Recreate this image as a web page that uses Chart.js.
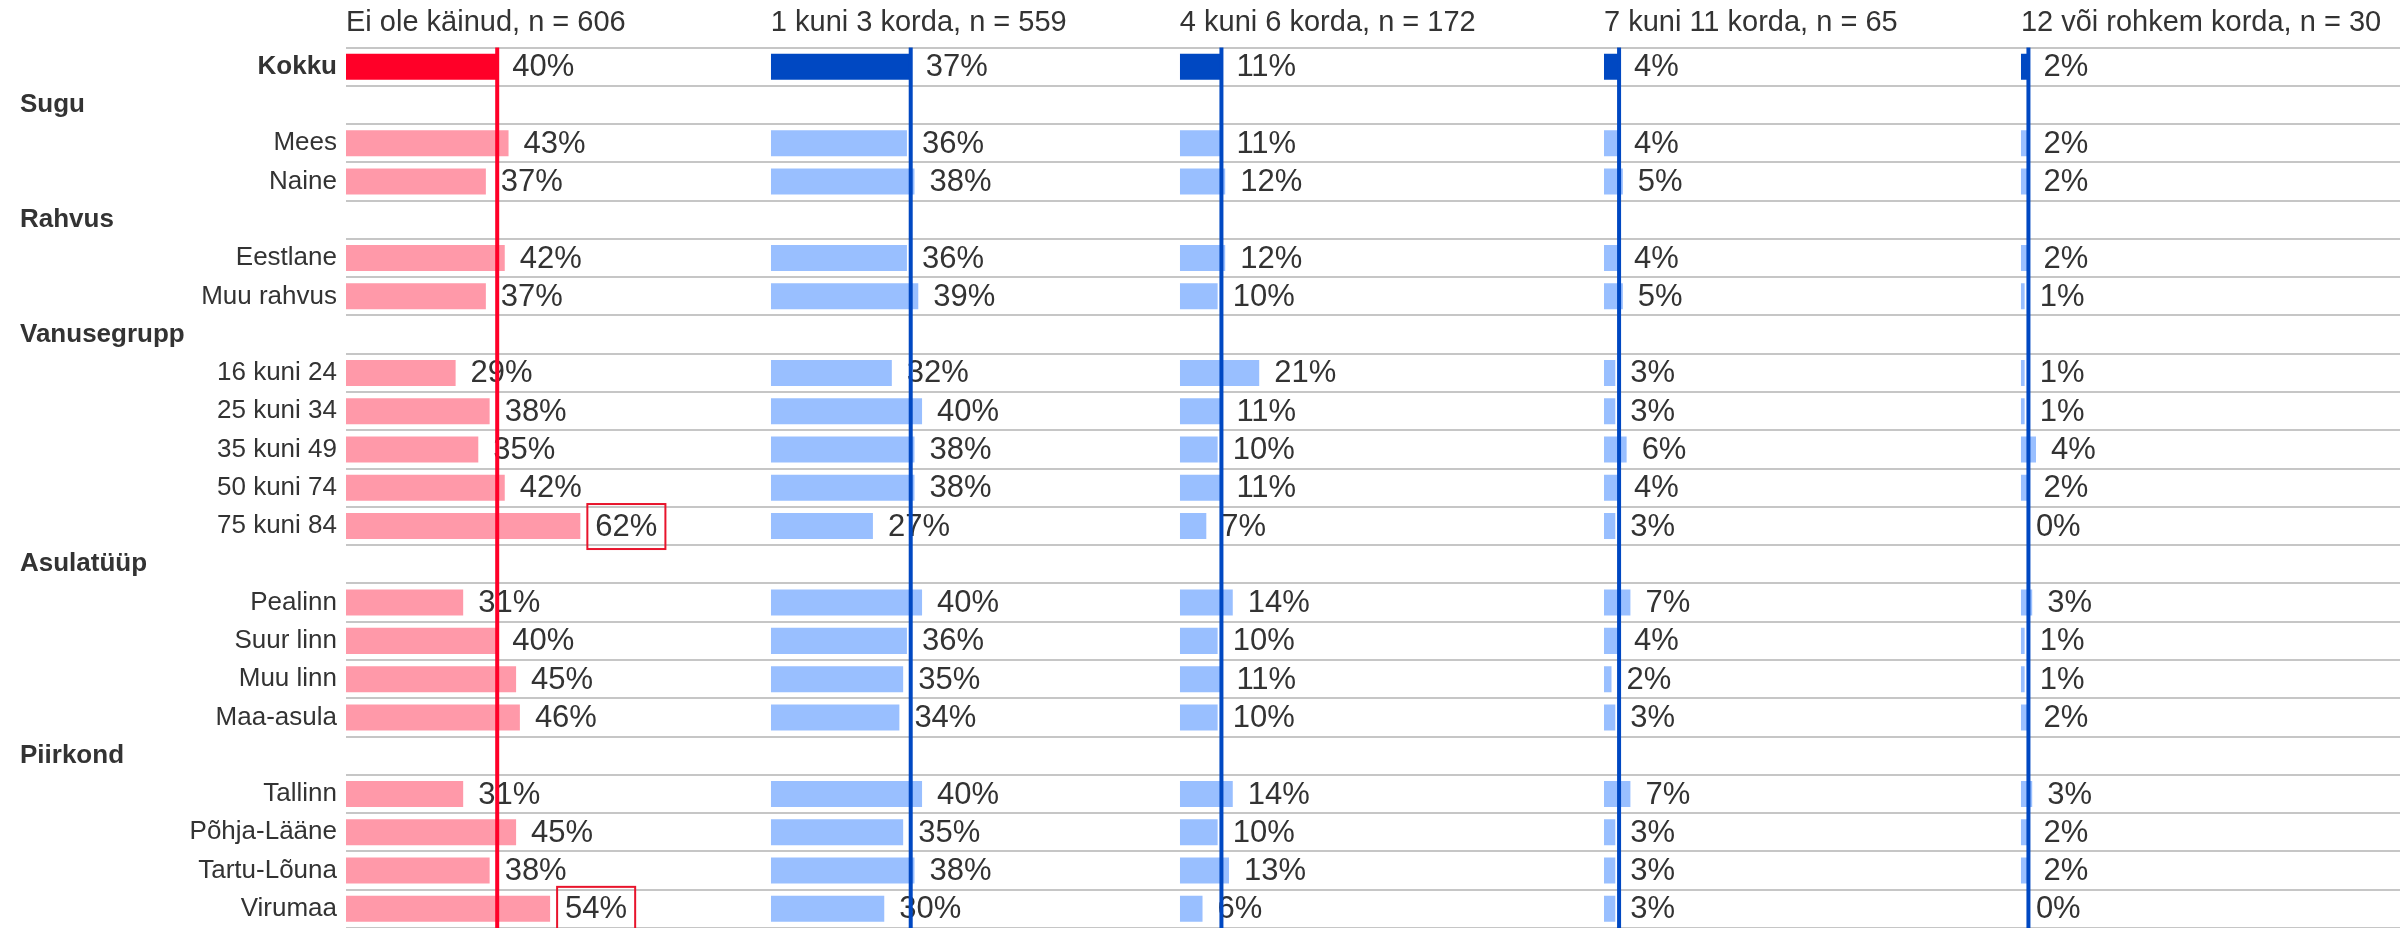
<!DOCTYPE html>
<html>
<head>
<meta charset="utf-8">
<title>Käimised</title>
<script src="https://cdn.jsdelivr.net/npm/chart.js@4.4.0/dist/chart.umd.min.js"></script>
<style>
  body { margin: 0; background: #ffffff; overflow: hidden; }
  #wrap { width: 2400px; height: 928px; }
</style>
</head>
<body>
<div id="wrap"><canvas id="kaimisedChart" width="2400" height="928"></canvas></div>
<script>
// read (grupi pealkirjad on samuti read, neil pole väärtust)
var categories = ['Kokku', 'Sugu', 'Mees', 'Naine', 'Rahvus', 'Eestlane', 'Muu rahvus',
    'Vanusegrupp', '16 kuni 24', '25 kuni 34', '35 kuni 49', '50 kuni 74', '75 kuni 84',
    'Asulatüüp', 'Pealinn', 'Suur linn', 'Muu linn', 'Maa-asula',
    'Piirkond', 'Tallinn', 'Põhja-Lääne', 'Tartu-Lõuna', 'Virumaa'];
var groupHeaders = ['Sugu', 'Rahvus', 'Vanusegrupp', 'Asulatüüp', 'Piirkond'];

var panelTitles = ['Ei ole käinud, n = 606', '1 kuni 3 korda, n = 559', '4 kuni 6 korda, n = 172',
    '7 kuni 11 korda, n = 65', '12 või rohkem korda, n = 30'];

var eiOleKainud = [40, null, 43, 37, null, 42, 37, null, 29, 38, 35, 42, 62, null, 31, 40, 45, 46, null, 31, 45, 38, 54];
var korda1kuni3 = [37, null, 36, 38, null, 36, 39, null, 32, 40, 38, 38, 27, null, 40, 36, 35, 34, null, 40, 35, 38, 30];
var korda4kuni6 = [11, null, 11, 12, null, 12, 10, null, 21, 11, 10, 11, 7, null, 14, 10, 11, 10, null, 14, 10, 13, 6];
var korda7kuni11 = [4, null, 4, 5, null, 4, 5, null, 3, 3, 6, 4, 3, null, 7, 4, 2, 3, null, 7, 3, 3, 3];
var korda12voiRohkem = [2, null, 2, 2, null, 2, 1, null, 1, 1, 4, 2, 0, null, 3, 1, 1, 2, null, 3, 2, 2, 0];

// statistiliselt erinevad (punane raam)
var highlighted = [['75 kuni 84', 'Virumaa'], [], [], [], []];

var panelData = [eiOleKainud, korda1kuni3, korda4kuni6, korda7kuni11, korda12voiRohkem];

// paneelide laius protsentides (sama mõõtkava igal paneelil)
var axisMax = [112.4, 108.2, 112.2, 110.3, 100.3];

var punane = '#ff0028';
var roosa = '#ff99a9';
var sinine = '#0048c2';
var helesinine = '#99bfff';
var tekst = '#333333';
var fontFamily = '"Liberation Sans", Arial, sans-serif';

Chart.defaults.font.family = fontFamily;
Chart.defaults.color = tekst;

var datasets = [];
var scales = {
    y: {
        type: 'category',
        offset: true,
        afterFit: function (s) { s.width = 346; },
        grid: { offset: true, color: '#c6c6c6', lineWidth: 2, drawTicks: false },
        border: { display: false },
        ticks: { display: false }
    }
};

panelData.forEach(function (values, p) {
    datasets.push({
        label: panelTitles[p],
        data: values,
        xAxisID: 'x' + p,
        grouped: false,
        barPercentage: 0.68,
        categoryPercentage: 1,
        backgroundColor: function (ctx) {
            if (p === 0) {
                return ctx.dataIndex === 0 ? punane : roosa;
            }
            return ctx.dataIndex === 0 ? sinine : helesinine;
        }
    });
});

// ülemised teljed: Chart.js paigutab 'top' kastid tagurpidi, seega lisan need lõpust
for (var p = panelData.length - 1; p >= 0; p--) {
    scales['x' + p] = {
        type: 'linear',
        position: 'top',
        stack: 'paneelid',
        stackWeight: axisMax[p],
        min: 0,
        max: axisMax[p],
        afterFit: function (s) { s.height = 47.5; },
        grid: { display: false, drawTicks: false },
        border: { display: false },
        ticks: { display: false },
        title: {
            display: true,
            text: panelTitles[p],
            align: 'start',
            color: tekst,
            font: { size: 29, family: fontFamily },
            padding: { top: 6, bottom: 0 }
        }
    };
}

// sildid, Kokku jooned ja rea nimed
var siltidePlugin = {
    id: 'sildid',
    afterDatasetsDraw: function (chart) {
        var c = chart.ctx;
        var area = chart.chartArea;
        c.save();

        // väärtused
        c.font = '31px ' + fontFamily;
        c.textAlign = 'left';
        c.textBaseline = 'middle';
        chart.data.datasets.forEach(function (ds, d) {
            var meta = chart.getDatasetMeta(d);
            meta.data.forEach(function (bar, i) {
                var v = ds.data[i];
                if (v === null || v === undefined) return;
                var txt = Math.round(v) + '%';
                var x = bar.x + 15;
                c.fillStyle = tekst;
                c.fillText(txt, x, bar.y + 1);
                if (highlighted[d].indexOf(categories[i]) > -1) {
                    var w = c.measureText(txt).width;
                    c.strokeStyle = '#e8142c';
                    c.lineWidth = 2;
                    c.strokeRect(x - 8, bar.y - 22, w + 16, 45);
                }
            });
        });

        // Kokku väärtuse jooned
        chart.data.datasets.forEach(function (ds, d) {
            var sc = chart.scales['x' + d];
            var px = sc.getPixelForValue(ds.data[0]);
            c.beginPath();
            c.strokeStyle = d === 0 ? punane : sinine;
            c.lineWidth = 4;
            c.moveTo(px, area.top);
            c.lineTo(px, area.bottom);
            c.stroke();
        });

        // rea nimed
        var yScale = chart.scales.y;
        categories.forEach(function (name, i) {
            var y = yScale.getPixelForValue(i);
            c.fillStyle = tekst;
            c.textBaseline = 'middle';
            if (groupHeaders.indexOf(name) > -1) {
                c.font = 'bold 26px ' + fontFamily;
                c.textAlign = 'left';
                c.fillText(name, 20, y);
            } else {
                c.font = (i === 0 ? 'bold ' : '') + '26px ' + fontFamily;
                c.textAlign = 'right';
                c.fillText(name, 337, y);
            }
        });
        c.restore();
    }
};

var ctx = document.getElementById('kaimisedChart').getContext('2d');
var kaimisedChart = new Chart(ctx, {
    type: 'bar',
    data: {
        labels: categories,
        datasets: datasets
    },
    plugins: [siltidePlugin],
    options: {
        indexAxis: 'y',
        responsive: false,
        animation: false,
        layout: { padding: 0 },
        plugins: {
            legend: { display: false },
            tooltip: { enabled: false }
        },
        scales: scales
    }
});
</script>
</body>
</html>
